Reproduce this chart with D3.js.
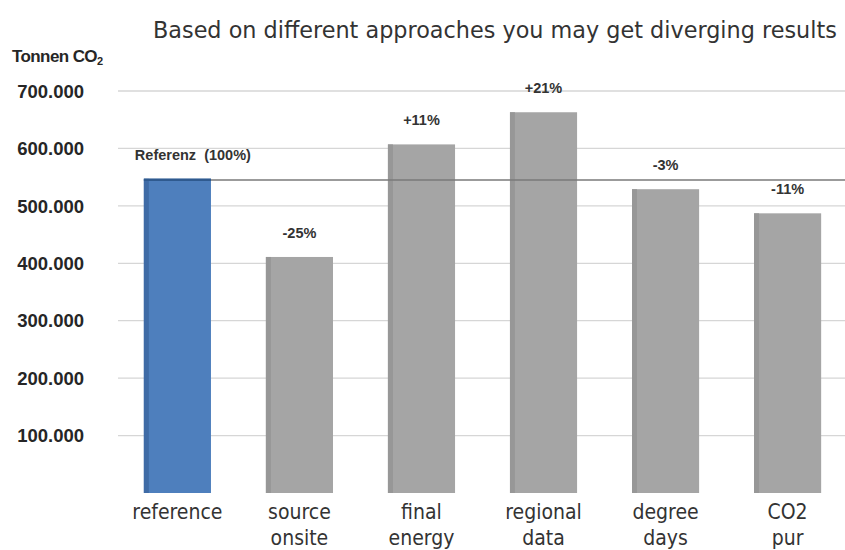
<!DOCTYPE html>
<html>
<head>
<meta charset="utf-8">
<title>Tonnen CO2 by approach</title>
<style>
body { margin: 0; background: #fff; }
svg { display: block; background: #fff; }
</style>
</head>
<body>
<div id="chart"></div>
<script src="https://cdn.jsdelivr.net/npm/d3@7"></script>
<script>
// chart values
var categories = [["reference"], ["source", "onsite"], ["final", "energy"], ["regional", "data"], ["degree", "days"], ["CO2", "pur"]];
var values = [547000, 411000, 607000, 663000, 529000, 487000];
var changeLabels = ["Referenz  (100%)", "-25%", "+11%", "+21%", "-3%", "-11%"];
var referenceValue = 545000;
var tickValues = [100000, 200000, 300000, 400000, 500000, 600000, 700000];
var tickLabels = ["100.000", "200.000", "300.000", "400.000", "500.000", "600.000", "700.000"];

var width = 845, height = 550;

var svg = d3.select("#chart").append("svg")
  .attr("width", width)
  .attr("height", height);

var x = d3.scaleBand()
  .domain(d3.range(categories.length))
  .range([117, 848])
  .paddingInner(0.45)
  .paddingOuter(0.22);

var y = d3.scaleLinear()
  .domain([0, 700000])
  .range([493, 91]);

// gridlines
svg.append("g").selectAll("line")
  .data(tickValues)
  .enter().append("line")
  .attr("x1", 118)
  .attr("x2", width)
  .attr("y1", function(d) { return y(d); })
  .attr("y2", function(d) { return y(d); })
  .style("stroke", "#d6d6d6")
  .style("stroke-width", 1.3);

// tick labels
svg.append("g").selectAll("text")
  .data(tickValues)
  .enter().append("text")
  .attr("x", 84)
  .attr("y", function(d) { return y(d); })
  .attr("dy", "0.36em")
  .attr("text-anchor", "end")
  .style("font-family", "'Liberation Sans', Arial, sans-serif")
  .style("font-weight", "bold")
  .style("font-size", "18.5px")
  .style("fill", "#262626")
  .text(function(d, i) { return tickLabels[i]; });

// bars, with a darker left edge
var bars = svg.append("g").selectAll("g")
  .data(values)
  .enter().append("g");

bars.append("rect")
  .attr("x", function(d, i) { return x(i); })
  .attr("y", function(d) { return y(d); })
  .attr("width", x.bandwidth())
  .attr("height", function(d) { return y(0) - y(d); })
  .style("fill", function(d, i) { return i === 0 ? "#4e7fbd" : "#a5a5a5"; });

bars.append("rect")
  .attr("x", function(d, i) { return x(i); })
  .attr("y", function(d) { return y(d); })
  .attr("width", 5)
  .attr("height", function(d) { return y(0) - y(d); })
  .style("fill", function(d, i) { return i === 0 ? "#3f6ba6" : "#979797"; });

// dark top edge on the reference bar
svg.append("line")
  .attr("x1", x(0))
  .attr("x2", x(0) + x.bandwidth())
  .attr("y1", y(values[0]) + 1)
  .attr("y2", y(values[0]) + 1)
  .style("stroke", "#2f5a8f")
  .style("stroke-width", 2.5);

// reference line
svg.append("line")
  .attr("x1", x(0) + x.bandwidth())
  .attr("x2", width)
  .attr("y1", y(referenceValue))
  .attr("y2", y(referenceValue))
  .style("stroke", "#7a7a7a")
  .style("stroke-width", 1.5);

// percentage labels
svg.append("g").selectAll("text")
  .data(values)
  .enter().append("text")
  .attr("x", function(d, i) { return i === 0 ? x(i) - 9 : x(i) + x.bandwidth() / 2; })
  .attr("y", function(d) { return y(d) - 24; })
  .attr("dy", "0.35em")
  .attr("text-anchor", function(d, i) { return i === 0 ? "start" : "middle"; })
  .style("font-family", "'Liberation Sans', Arial, sans-serif")
  .style("font-weight", "bold")
  .style("font-size", "14.5px")
  .style("fill", "#333")
  .style("white-space", "pre")
  .text(function(d, i) { return changeLabels[i]; });

// category labels
var cat = svg.append("g").selectAll("text")
  .data(categories)
  .enter().append("text")
  .attr("x", function(d, i) { return x(i) + x.bandwidth() / 2; })
  .attr("y", 512)
  .attr("text-anchor", "middle")
  .style("font-family", "'DejaVu Sans Condensed', 'DejaVu Sans', sans-serif")
  .style("font-size", "21px")
  .style("fill", "#333");

cat.selectAll("tspan")
  .data(function(d) { return d; })
  .enter().append("tspan")
  .attr("x", function() { return d3.select(this.parentNode).attr("x"); })
  .attr("dy", function(d, i) { return i === 0 ? "0.35em" : "1.23em"; })
  .text(function(d) { return d; });

// title
var title = svg.append("text")
  .attr("x", 153)
  .attr("y", 30)
  .attr("dy", "0.35em")
  .style("font-family", "'DejaVu Sans', Verdana, sans-serif")
  .style("font-size", "20px")
  .style("fill", "#333")
  .text("Based on different approaches you may get diverging results");
var tl = title.node().getComputedTextLength();
title.style("font-size", (20 * 684 / tl) + "px");

// axis title
var axisTitle = svg.append("text")
  .attr("x", 12)
  .attr("y", 56)
  .attr("dy", "0.35em")
  .style("font-family", "'Liberation Sans', Arial, sans-serif")
  .style("font-weight", "bold")
  .style("font-size", "17px")
  .style("letter-spacing", "-0.6px")
  .style("fill", "#262626");
axisTitle.append("tspan").text("Tonnen CO");
axisTitle.append("tspan").attr("dy", "0.3em").style("font-size", "11px").text("2");
</script>
</body>
</html>
